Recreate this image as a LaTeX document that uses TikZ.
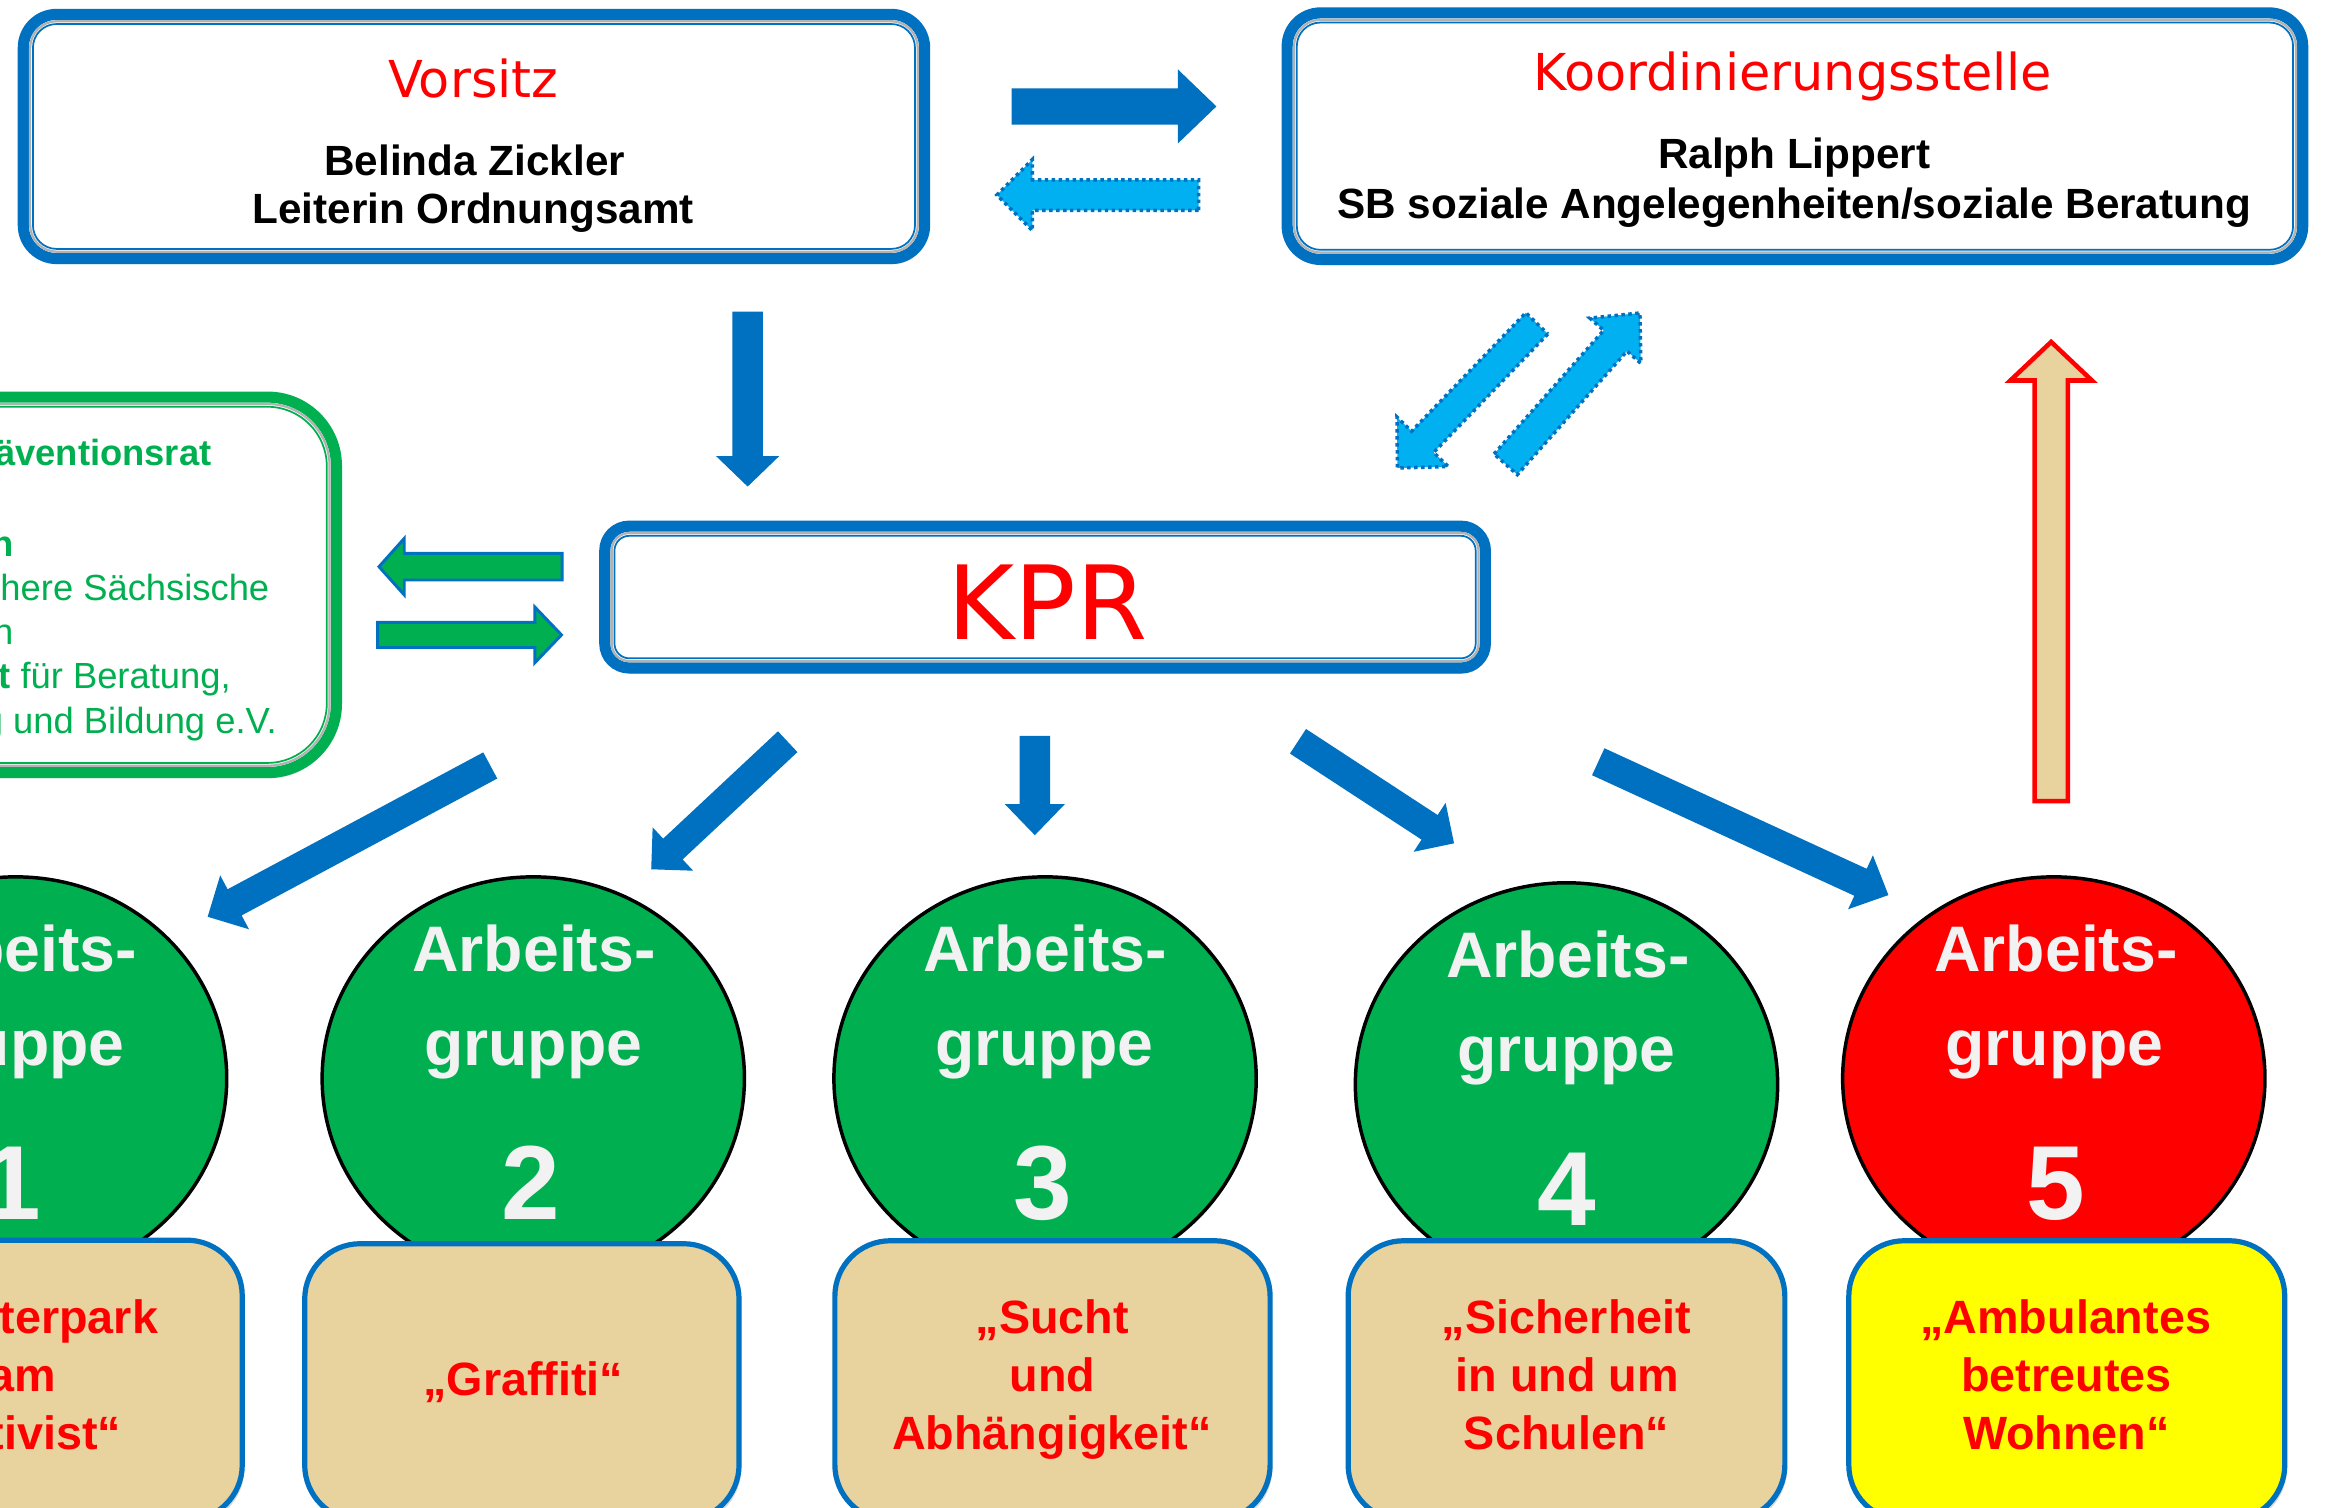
\documentclass[tikz,border=0pt]{standalone}
\usepackage{fontspec}
\setmainfont{Liberation Sans}
\newfontfamily\ttlfont{DejaVu Sans}
\usetikzlibrary{calc,fit,shadows,shapes.geometric}
\definecolor{pblue}{RGB}{0,112,192}
\definecolor{lblue}{RGB}{0,176,240}
\definecolor{pgreen}{RGB}{0,176,80}
\definecolor{pred}{RGB}{255,0,0}
\definecolor{paper}{RGB}{232,210,158}
\definecolor{agwhite}{RGB}{242,242,242}
\definecolor{pyellow}{RGB}{255,255,0}
\def\U{0.42679pt}
% block arrow: #1 style, #2 tail coord, #3 tip coord, #4 half shaft, #5 half head, #6 head length (units)
\newcommand\blkarrow[6]{%
  \coordinate (#2-bm) at ($(#3)!#6*\U!(#2)$);
  \draw[#1] ($(#2)!#4*\U!90:(#3)$) -- ($(#2-bm)!#4*\U!90:(#3)$) -- ($(#2-bm)!#5*\U!90:(#3)$) -- (#3)
    -- ($(#2-bm)!#5*\U!-90:(#3)$) -- ($(#2-bm)!#4*\U!-90:(#3)$) -- ($(#2)!#4*\U!-90:(#3)$) -- cycle;}
% framed box: #1 name, #2 #3 corners, #4 colour, #5 #6 #7 radii
\newcommand\pframe[7]{%
  \node[fit={#2 #3}, inner sep=0pt, outer sep=0pt] (#1) {};
  \draw[#4, line width=3.2pt, rounded corners=#5, fill=white,
        drop shadow={shadow xshift=0.6pt, shadow yshift=-1.6pt, opacity=0.35}]
    ([shift={(3.7,3.7)}]#1.north west) rectangle ([shift={(-3.7,-3.7)}]#1.south east);
  \draw[black!30, line width=0.65pt, rounded corners=#6]
    ([shift={(8.3,8.3)}]#1.north west) rectangle ([shift={(-8.3,-8.3)}]#1.south east);
  \draw[#4, line width=0.5pt, rounded corners=#7]
    ([shift={(10.2,10.2)}]#1.north west) rectangle ([shift={(-10.2,-10.2)}]#1.south east);}
\begin{document}
\begin{tikzpicture}[x=0.015cm, y=-0.015cm,
  ttl/.style={font=\ttlfont\fontsize{14.64pt}{17pt}\selectfont, text=pred, inner sep=0pt, anchor=base},
  blk/.style={font=\bfseries\fontsize{12.16pt}{14pt}\selectfont, text=black, inner sep=0pt, anchor=base},
  agt/.style={font=\bfseries\fontsize{18.52pt}{22pt}\selectfont, text=agwhite, inner sep=0pt, anchor=base},
  agn/.style={font=\bfseries\fontsize{30.3pt}{36pt}\selectfont, text=agwhite, inner sep=0pt, anchor=base},
  bxt/.style={font=\bfseries\fontsize{13.44pt}{16pt}\selectfont, text=pred, inner sep=0pt, anchor=base},
  grt/.style={font=\fontsize{10.46pt}{12.5pt}\selectfont, text=pgreen, inner sep=0pt, anchor=base east},
  ag/.style={ellipse, draw=black, line width=1pt, inner sep=0pt, minimum width=121.5pt, minimum height=116pt},
  lowbox/.style={draw=pblue, line width=1.5pt, rounded corners=16pt, inner sep=0pt, outer sep=0pt,
        drop shadow={shadow xshift=0.6pt, shadow yshift=-1.2pt, opacity=0.3}},
  solidarr/.style={fill=pblue, draw=none},
  dotarr/.style={fill=lblue, draw=pblue, line width=1pt, dash pattern=on 1pt off 1pt},
  grarr/.style={fill=pgreen, draw=pblue, line width=0.85pt},
  redarr/.style={fill=paper, draw=pred, line width=1.3pt}]
\path[use as bounding box, clip] (0,0) rectangle (1568,1016);
\fill[white] (0,0) rectangle (1568,1016);

% Arbeitsgruppen
\node[ag, fill=pgreen] (ag1) at (10.5,727) {};
\node[ag, fill=pgreen] (ag2) at (359.5,727) {};
\node[ag, fill=pgreen] (ag3) at (704.5,727) {};
\node[ag, fill=pgreen] (ag4) at (1056,731) {};
\node[ag, fill=pred] (ag5) at (1384.5,727) {};

% lower boxes
\node[lowbox, fill=paper, fit={(-131,836) (163.3,1025)}] (b1) {};
\node[lowbox, fill=paper, fit={(205.4,838.4) (498.2,1025)}] (b2) {};
\node[lowbox, fill=paper, fit={(562.8,836.4) (856.2,1025)}] (b3) {};
\node[lowbox, fill=paper, fit={(908.8,836.4) (1203.2,1025)}] (b4) {};
\node[lowbox, fill=pyellow, fit={(1246.3,836.4) (1540.2,1025)}] (b5) {};

% framed boxes
\pframe{vors}{(12,6)}{(627,178)}{pblue}{9.6pt}{7.7pt}{6.8pt}
\pframe{koord}{(864,5)}{(1556,178.6)}{pblue}{9.6pt}{7.7pt}{6.8pt}
\pframe{kpr}{(404,351)}{(1005,454)}{pblue}{7pt}{5.1pt}{4.3pt}
\pframe{praev}{(-100,264)}{(230.5,524.5)}{pgreen}{19.8pt}{17.9pt}{17.1pt}

% arrow end points
\coordinate (aVKt) at (682,71.75);   \coordinate (aVKh) at (820,71.75);
\coordinate (aKVt) at (808,131.5);   \coordinate (aKVh) at (672,131.5);
\coordinate (aVPt) at (504,210);     \coordinate (aVPh) at (504,328);
\coordinate (aPKt) at (1015,313);    \coordinate (aPKh) at (1105.5,211);
\coordinate (aKPt) at (1036,218);    \coordinate (aKPh) at (942,315.5);
\coordinate (aGLt) at (379,382);     \coordinate (aGLh) at (255.5,382);
\coordinate (aGRt) at (254.5,428);   \coordinate (aGRh) at (378.5,428);
\coordinate (a1t) at (330.5,516);    \coordinate (a1h) at (140,618);
\coordinate (a2t) at (531,500);      \coordinate (a2h) at (439,586);
\coordinate (a3t) at (697.6,496);    \coordinate (a3h) at (697.6,563);
\coordinate (a4t) at (875,499.7);    \coordinate (a4h) at (980.2,568.5);
\coordinate (a5t) at (1077.4,513.5); \coordinate (a5h) at (1273,603.4);
\coordinate (aRt) at (1382.7,540);   \coordinate (aRh) at (1382.7,230.5);

\blkarrow{solidarr}{aVKt}{aVKh}{12.25}{25}{26}
\blkarrow{dotarr}{aKVt}{aKVh}{10.3}{24}{24}
\blkarrow{solidarr}{aVPt}{aVPh}{10.25}{21.25}{20.5}
\blkarrow{dotarr}{aPKt}{aPKh}{10.5}{23}{25}
\blkarrow{dotarr}{aKPt}{aKPh}{10.3}{24}{24.5}
\blkarrow{grarr}{aGLt}{aGLh}{9}{19}{17}
\blkarrow{grarr}{aGRt}{aGRh}{8.5}{18.8}{18}
\blkarrow{solidarr}{a1t}{a1h}{10}{20.6}{20.6}
\blkarrow{solidarr}{a2t}{a2h}{9.6}{20}{20}
\blkarrow{solidarr}{a3t}{a3h}{10.3}{20.3}{21}
\blkarrow{solidarr}{a4t}{a4h}{9.9}{19.7}{19.7}
\blkarrow{solidarr}{a5t}{a5h}{10}{20}{20.7}
\blkarrow{redarr}{aRt}{aRh}{11.2}{27.5}{26}

% texts top
\node[ttl] (vorsT) at (319,65.6) {Vorsitz};
\node[blk] (vorsN) at (320,118) {Belinda Zickler};
\node[blk] (vorsF) at (319,151) {Leiterin Ordnungsamt};
\node[ttl] (koordT) at (1208.5,60.7) {Koordinierungsstelle};
\node[blk] (koordN) at (1209.5,113.5) {Ralph Lippert};
\node[blk] (koordF) at (1209.5,147.5) {SB soziale Angelegenheiten/soziale Beratung};
\node[font=\ttlfont\fontsize{29.45pt}{34pt}\selectfont, text=pred, inner sep=0pt, anchor=base] (kprT) at (706,431) {KPR};

% Praeventionsrat text
\node[grt, font=\bfseries\fontsize{10.46pt}{12.5pt}\selectfont] (p1) at (143,314) {äventionsrat};
\node[grt, font=\bfseries\fontsize{10.46pt}{12.5pt}\selectfont] (p2) at (9.5,375) {n};
\node[grt] (p3) at (182,404.5) {here Sächsische};
\node[grt] (p4) at (9.5,434.5) {n};
\node[grt] (p5) at (156,464) {\textbf{t} für Beratung,};
\node[grt] (p6) at (187,494.5) {g und Bildung e.V.};

% circle texts
\node[agt] (ag1a) at (10.5,655) {Arbeits-};
\node[agt] (ag1b) at (10.5,718) {gruppe};
\node[agn] (ag1c) at (8,822) {1};
\node[agt] (ag2a) at (360,655) {Arbeits-};
\node[agt] (ag2b) at (359.5,718) {gruppe};
\node[agn] (ag2c) at (358,822) {2};
\node[agt] (ag3a) at (704.5,655) {Arbeits-};
\node[agt] (ag3b) at (704,718) {gruppe};
\node[agn] (ag3c) at (703,822) {3};
\node[agt] (ag4a) at (1057,659) {Arbeits-};
\node[agt] (ag4b) at (1056,722) {gruppe};
\node[agn] (ag4c) at (1056,826) {4};
\node[agt] (ag5a) at (1386,655) {Arbeits-};
\node[agt] (ag5b) at (1385,718) {gruppe};
\node[agn] (ag5c) at (1386,822) {5};

% box texts
\node[bxt, anchor=base east] (b1a) at (107,899) {terpark};
\node[bxt, anchor=base east] (b1b) at (38,938) {am};
\node[bxt, anchor=base east] (b1c) at (82,977) {tivist“};
\node[bxt] (b2a) at (352.8,940.5) {„Graffiti“};
\node[bxt] (b3a) at (709.5,899) {„Sucht};
\node[bxt] (b3b) at (709.5,938) {und};
\node[bxt] (b3c) at (709,977) {Abhängigkeit“};
\node[bxt] (b4a) at (1056,899) {„Sicherheit};
\node[bxt] (b4b) at (1056.5,938) {in und um};
\node[bxt] (b4c) at (1056,977) {Schulen“};
\node[bxt] (b5a) at (1392.5,899) {„Ambulantes};
\node[bxt] (b5b) at (1393,938) {betreutes};
\node[bxt] (b5c) at (1393,977) {Wohnen“};
\end{tikzpicture}
\end{document}
